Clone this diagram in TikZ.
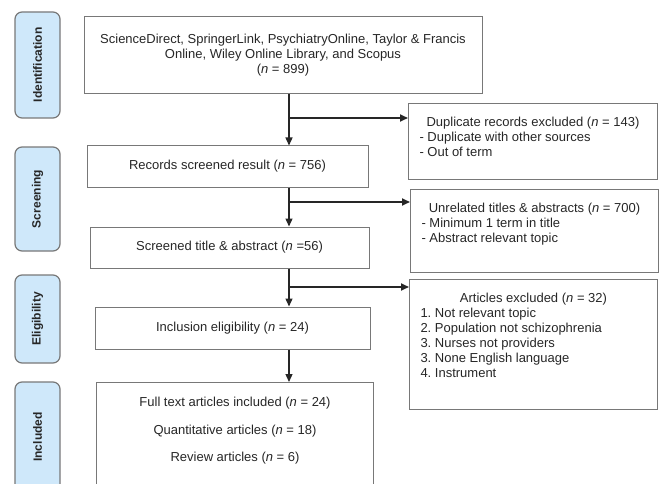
\documentclass[tikz,border=0pt]{standalone}
\usepackage{fontspec}
\setmainfont{Liberation Sans}
\usetikzlibrary{arrows.meta}
\definecolor{stagefill}{RGB}{207,232,250}
\definecolor{boxline}{RGB}{120,120,120}
\frenchspacing

\begin{document}
\begin{tikzpicture}[x=1pt, y=-1pt, every node/.style={font=\fontsize{13}{15}\selectfont, text=black!85, inner sep=0pt},
  stage/.style={draw=boxline, line width=1.2pt, fill=stagefill, rounded corners=7pt, rotate=90, minimum height=45pt, font=\fontsize{12}{14}\selectfont\bfseries},
  flowbox/.style={draw=boxline, line width=1pt, align=center},
  sidebox/.style={draw=boxline, line width=1pt, anchor=north west, inner xsep=11pt, inner ysep=14pt},
  arr/.style={-{Triangle[length=8pt,width=7pt]}, line width=1.3pt, black!85},
  branch/.style={arr, line width=1.8pt}]

\useasboundingbox (0,0) rectangle (661,484);

% stages
\node[stage, minimum width=106pt] (ident) at (37.5,65) {Identification};
\node[stage, minimum width=104pt] (screen) at (37.5,199) {Screening};
\node[stage, minimum width=88pt] (elig) at (37.5,319) {Eligibility};
\node[stage, minimum width=110pt] (inc) at (37.5,437) {Included};

% main flow
\node[flowbox, minimum width=398pt, minimum height=77pt] (src) at (283,55.5) {ScienceDirect, SpringerLink, PsychiatryOnline, Taylor \& Francis\\Online, Wiley Online Library, and Scopus\\(\textit{n} = 899)};
\node[flowbox, minimum width=281pt, minimum height=41pt] (rec) at (227.5,166.5) {Records screened result (\textit{n} = 756)};
\node[flowbox, minimum width=279pt, minimum height=41pt] (scr) at (229.5,247.5) {Screened title \& abstract (\textit{n} =56)};
\node[flowbox, minimum width=275pt, minimum height=42pt] (incel) at (232.5,328) {Inclusion eligibility (\textit{n} = 24)};
\node[sidebox, inner xsep=0pt, inner ysep=15pt] (full) at (96,382) {\parbox[c][80pt][t]{277pt}{\centering Full text articles included (\textit{n} = 24)\\[12.5pt]Quantitative articles (\textit{n} = 18)\\[12.5pt]Review articles (\textit{n} = 6)}};

% exclusions
\node[sidebox] (dup) at (408,103) {\parbox[c][48pt][t]{227pt}{\centering Duplicate records excluded (\textit{n} = 143)\par\raggedright - Duplicate with other sources\\- Out of term}};
\node[sidebox] (unrel) at (410,189) {\parbox[c][55pt][t]{226pt}{\centering Unrelated titles \& abstracts (\textit{n} = 700)\par\raggedright - Minimum 1 term in title\\- Abstract relevant topic}};
\node[sidebox] (artex) at (409,279) {\parbox[c][102pt][t]{226pt}{\centering Articles excluded (\textit{n} = 32)\par\raggedright 1. Not relevant topic\\2. Population not schizophrenia\\3. Nurses not providers\\3. None English language\\4. Instrument}};

\coordinate (b1) at (289,118);
\coordinate (b2) at (289,202);
\coordinate (b3) at (289,287);

\draw[arr] (src.south -| b1) -- (rec.north -| b1);
\draw[branch] (b1) -- (b1 -| dup.west);
\draw[arr] (rec.south -| b2) -- (scr.north -| b2);
\draw[branch] (b2) -- (b2 -| unrel.west);
\draw[arr] (scr.south -| b3) -- (incel.north -| b3);
\draw[branch] (b3) -- (b3 -| artex.west);
\draw[arr] (incel.south -| b3) -- (full.north -| b3);
\end{tikzpicture}
\end{document}
